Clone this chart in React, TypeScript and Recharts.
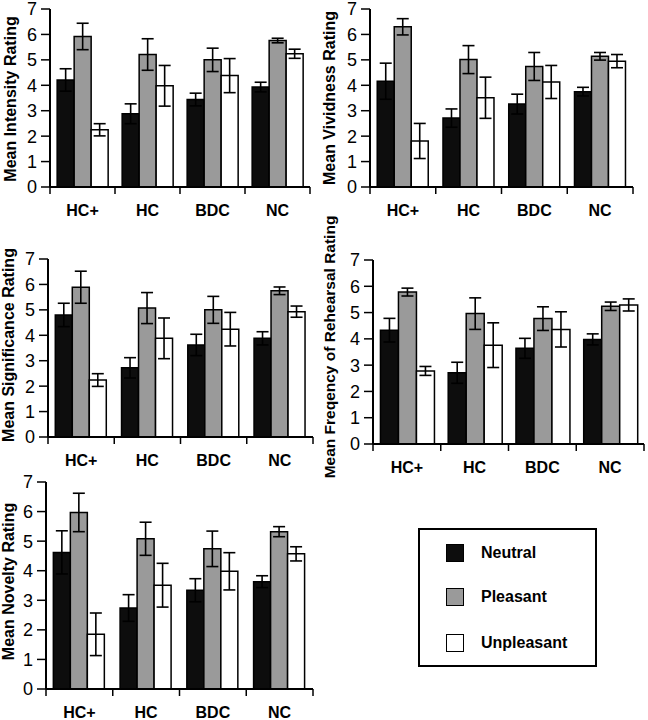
import React from 'react';
import { BarChart, Bar, XAxis, YAxis, ErrorBar } from 'recharts';

const categories = ['HC+', 'HC', 'BDC', 'NC'];
const yTicks = [0, 1, 2, 3, 4, 5, 6, 7];
const seriesNames = ['Neutral', 'Pleasant', 'Unpleasant'];
const seriesFills = ['#0d0d0d', '#9a9a9a', '#ffffff'];

// Intensity
const intensityNeutral = [4.21, 2.88, 3.44, 3.93];
const intensityNeutralErr = [0.44, 0.39, 0.25, 0.19];
const intensityPleasant = [5.92, 5.21, 5.0, 5.76];
const intensityPleasantErr = [0.52, 0.62, 0.46, 0.09];
const intensityUnpleasant = [2.25, 3.98, 4.38, 5.24];
const intensityUnpleasantErr = [0.24, 0.8, 0.67, 0.18];

// Vividness
const vividNeutral = [4.16, 2.71, 3.26, 3.75];
const vividNeutralErr = [0.71, 0.36, 0.39, 0.17];
const vividPleasant = [6.3, 5.01, 4.74, 5.14];
const vividPleasantErr = [0.32, 0.55, 0.55, 0.15];
const vividUnpleasant = [1.81, 3.51, 4.13, 4.95];
const vividUnpleasantErr = [0.69, 0.81, 0.65, 0.26];

// Significance
const signifNeutral = [4.8, 2.72, 3.62, 3.88];
const signifNeutralErr = [0.46, 0.4, 0.42, 0.26];
const signifPleasant = [5.89, 5.07, 5.0, 5.75];
const signifPleasantErr = [0.63, 0.61, 0.53, 0.15];
const signifUnpleasant = [2.24, 3.88, 4.24, 4.93];
const signifUnpleasantErr = [0.25, 0.8, 0.66, 0.22];

// Rehearsal
const rehearsalNeutral = [4.33, 2.71, 3.64, 3.98];
const rehearsalNeutralErr = [0.45, 0.4, 0.38, 0.21];
const rehearsalPleasant = [5.78, 4.96, 4.77, 5.24];
const rehearsalPleasantErr = [0.15, 0.6, 0.45, 0.16];
const rehearsalUnpleasant = [2.78, 3.76, 4.36, 5.29];
const rehearsalUnpleasantErr = [0.17, 0.85, 0.67, 0.23];

// Novelty
const noveltyNeutral = [4.62, 2.74, 3.34, 3.63];
const noveltyNeutralErr = [0.73, 0.45, 0.39, 0.2];
const noveltyPleasant = [5.97, 5.08, 4.74, 5.32];
const noveltyPleasantErr = [0.65, 0.56, 0.6, 0.17];
const noveltyUnpleasant = [1.85, 3.51, 3.98, 4.57];
const noveltyUnpleasantErr = [0.72, 0.74, 0.63, 0.24];

const FONT = '"Liberation Sans", Arial, Helvetica, sans-serif';
const TOPM = 60;

function YLabel({ bx, cy, text, size }: any) {
  return (
    <text
      x={bx}
      y={cy}
      transform={`rotate(-90, ${bx}, ${cy})`}
      textAnchor="middle"
      fontSize={size ?? 16}
      fontWeight="bold"
      fill="#000"
      fontFamily={FONT}
    >
      {text}
    </text>
  );
}

function Panel(props: any) {
  const { L, T, B, R, label, labelOffset, labelShift, labelSize, n, ne, p, pe, u, ue } = props;
  const data = categories.map((c, i) => ({
    name: c,
    neutral: n[i],
    neutralErr: ne[i],
    pleasant: p[i],
    pleasantErr: pe[i],
    unpleasant: u[i],
    unpleasantErr: ue[i],
  }));
  const AX = 62;
  const CL = L - AX;
  const W = R - CL + 8;
  const H = B - T + TOPM + 40;
  const band = (R - L) / categories.length;
  const renderTick = (tp: any) => {
    const { x, y, payload, index } = tp;
    return (
      <g>
        <line x1={x - band / 2} x2={x - band / 2} y1={y} y2={y + 7} stroke="#000" strokeWidth={1.5} />
        {index === categories.length - 1 && (
          <line x1={x + band / 2} x2={x + band / 2} y1={y} y2={y + 7} stroke="#000" strokeWidth={1.5} />
        )}
        <text x={x} y={y + 29} textAnchor="middle" fontSize={16} fontWeight="bold" fill="#000" fontFamily={FONT}>
          {payload.value}
        </text>
      </g>
    );
  };
  const bx = AX - (labelOffset ?? 34);
  const cy = TOPM + (B - T) / 2 + (labelShift ?? -2);
  return (
    <div style={{ position: 'absolute', left: CL, top: T - TOPM }}>
      <BarChart
        width={W}
        height={H}
        data={data}
        margin={{ top: TOPM, right: 8, left: 0, bottom: 0 }}
        barCategoryGap="11%"
        barGap={0}
      >
        <XAxis
          dataKey="name"
          height={40}
          tickSize={0}
          tickMargin={0}
          tickLine={false}
          interval={0}
          tick={renderTick}
          axisLine={{ stroke: '#000', strokeWidth: 2 }}
        />
        <YAxis
          type="number"
          width={AX}
          domain={[0, 7]}
          ticks={yTicks}
          interval={0}
          tickSize={9}
          tickMargin={4}
          axisLine={{ stroke: '#000', strokeWidth: 2 }}
          tickLine={{ stroke: '#000', strokeWidth: 1.5 }}
          tick={{ fontSize: 18, fill: '#000', fontFamily: FONT }}
          label={<YLabel bx={bx} cy={cy} text={label} size={labelSize} />}
        />
        <Bar dataKey="neutral" fill={seriesFills[0]} stroke="#000" strokeWidth={1.5} isAnimationActive={false}>
          <ErrorBar dataKey="neutralErr" width={6} stroke="#000" strokeWidth={1.6} direction="y" />
        </Bar>
        <Bar dataKey="pleasant" fill={seriesFills[1]} stroke="#000" strokeWidth={1.5} isAnimationActive={false}>
          <ErrorBar dataKey="pleasantErr" width={6} stroke="#000" strokeWidth={1.6} direction="y" />
        </Bar>
        <Bar dataKey="unpleasant" fill={seriesFills[2]} stroke="#000" strokeWidth={1.5} isAnimationActive={false}>
          <ErrorBar dataKey="unpleasantErr" width={6} stroke="#000" strokeWidth={1.6} direction="y" />
        </Bar>
      </BarChart>
    </div>
  );
}

function LegendBox() {
  const rows = [553, 597, 643];
  return (
    <div
      style={{
        position: 'absolute',
        left: 418,
        top: 528,
        width: 179,
        height: 139,
        boxSizing: 'border-box',
        border: '2px solid #000',
        background: '#fff',
      }}
    >
      {seriesNames.map((name, i) => (
        <div
          key={name}
          style={{
            position: 'absolute',
            left: 26,
            top: rows[i] - 528 - 11,
            height: 18,
            display: 'flex',
            alignItems: 'center',
          }}
        >
          <div
            style={{
              width: 18,
              height: 18,
              boxSizing: 'border-box',
              border: '1.5px solid #000',
              background: seriesFills[i],
            }}
          />
          <span
            style={{
              marginLeft: 17,
              fontFamily: FONT,
              fontWeight: 'bold',
              fontSize: 16,
              color: '#000',
              lineHeight: '18px',
            }}
          >
            {name}
          </span>
        </div>
      ))}
    </div>
  );
}

export default function App() {
  return (
    <div
      style={{
        position: 'absolute',
        left: 0,
        top: 0,
        width: 648,
        height: 720,
        background: '#fff',
        fontFamily: FONT,
        overflow: 'hidden',
      }}
    >
      <Panel L={50} T={9} B={187} R={310} label="Mean Intensity Rating" labelShift={1}
        n={intensityNeutral} ne={intensityNeutralErr} p={intensityPleasant} pe={intensityPleasantErr}
        u={intensityUnpleasant} ue={intensityUnpleasantErr} />
      <Panel L={370} T={9} B={187} R={633} label="Mean Vividness Rating" labelOffset={35} labelShift={0}
        n={vividNeutral} ne={vividNeutralErr} p={vividPleasant} pe={vividPleasantErr}
        u={vividUnpleasant} ue={vividUnpleasantErr} />
      <Panel L={48} T={259} B={437} R={313} label="Mean Significance Rating" labelOffset={34} labelShift={-3}
        n={signifNeutral} ne={signifNeutralErr} p={signifPleasant} pe={signifPleasantErr}
        u={signifUnpleasant} ue={signifUnpleasantErr} />
      <Panel L={373} T={260} B={444} R={644} label="Mean Freqency of Rehearsal Rating" labelOffset={38} labelShift={-5} labelSize={15.5}
        n={rehearsalNeutral} ne={rehearsalNeutralErr} p={rehearsalPleasant} pe={rehearsalPleasantErr}
        u={rehearsalUnpleasant} ue={rehearsalUnpleasantErr} />
      <Panel L={46} T={482} B={689} R={313} label="Mean Novelty Rating" labelOffset={32} labelShift={-4}
        n={noveltyNeutral} ne={noveltyNeutralErr} p={noveltyPleasant} pe={noveltyPleasantErr}
        u={noveltyUnpleasant} ue={noveltyUnpleasantErr} />
      <LegendBox />
    </div>
  );
}
